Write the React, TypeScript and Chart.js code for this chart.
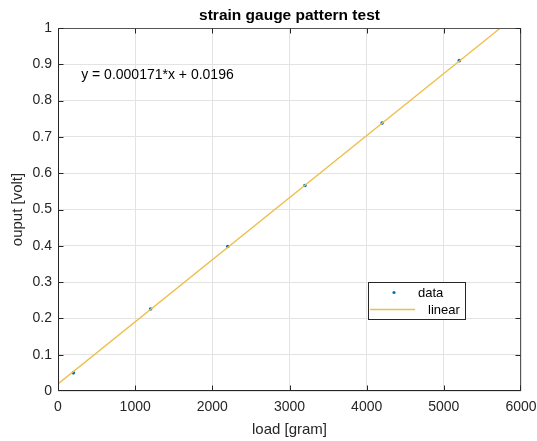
import React, { useEffect, useRef } from "react";
import { Chart, registerables } from "chart.js";

Chart.register(...registerables);

// Measured strain gauge output against applied load
const loadGrams = [200, 1200, 2200, 3200, 4200, 5200];
const outputVolts = [0.05, 0.226, 0.398, 0.566, 0.738, 0.91];

// Least-squares fit shown on the plot
const FIT_SLOPE = 0.000171;
const FIT_INTERCEPT = 0.0196;
const fitRangeX = [0, 6000];
const fitLabel = "y = 0.000171*x + 0.0196";
const fitLabelAt = { x: 300, y: 0.87 };

const xTickValues = [0, 1000, 2000, 3000, 4000, 5000, 6000];
const yTickValues = [0, 0.1, 0.2, 0.3, 0.4, 0.5, 0.6, 0.7, 0.8, 0.9, 1];

const titleText = "strain gauge pattern test";
const xTitle = "load [gram]";
const yTitle = "ouput [volt]";
const legendLabels = ["data", "linear"];

const AXIS = "#262626";
const AXIS_FAR = "#555555";
const GRID = "#e3e3e3";
const BLUE = "#0072BD";
const GOLD = "#EDBF4A";
const FONT = "'Liberation Sans', Arial, Helvetica, sans-serif";

const W = 537;
const H = 441;
const AREA = { left: 58, top: 28, right: 521, bottom: 391 };

const decorations = {
  id: "decorations",
  afterDraw(chart: any) {
    const { ctx, chartArea: a, scales } = chart;
    const xs = scales.x;
    const ys = scales.y;
    const L = Math.round(a.left) + 0.5;
    const R = Math.round(a.right) - 0.5;
    const T = Math.round(a.top) + 0.5;
    const B = Math.round(a.bottom) - 0.5;
    const clampX = (p: number) => Math.min(R, Math.max(L, p));
    const clampY = (p: number) => Math.min(B, Math.max(T, p));
    ctx.save();
    ctx.lineWidth = 1;

    // far (top/right) edges of the box
    ctx.strokeStyle = AXIS_FAR;
    ctx.beginPath();
    ctx.moveTo(L, T);
    ctx.lineTo(R, T);
    ctx.lineTo(R, B);
    ctx.stroke();

    // near (left/bottom) edges
    ctx.strokeStyle = AXIS;
    ctx.beginPath();
    ctx.moveTo(L, T);
    ctx.lineTo(L, B);
    ctx.lineTo(R, B);
    ctx.stroke();

    // inward tick marks on all four sides
    const tl = 5;
    ctx.beginPath();
    xTickValues.forEach((v) => {
      const px = clampX(Math.round(xs.getPixelForValue(v)) + 0.5);
      ctx.moveTo(px, B);
      ctx.lineTo(px, B - tl);
      ctx.moveTo(px, T);
      ctx.lineTo(px, T + tl);
    });
    yTickValues.forEach((v) => {
      const py = clampY(Math.round(ys.getPixelForValue(v)) + 0.5);
      ctx.moveTo(L, py);
      ctx.lineTo(L + tl, py);
      ctx.moveTo(R, py);
      ctx.lineTo(R - tl, py);
    });
    ctx.stroke();

    ctx.fillStyle = "#000";
    ctx.textBaseline = "middle";

    // title
    ctx.font = `bold 15.5px ${FONT}`;
    ctx.textAlign = "center";
    ctx.fillText(titleText, (a.left + a.right) / 2, 16);

    // axis titles
    ctx.fillStyle = AXIS;
    ctx.font = `15px ${FONT}`;
    ctx.fillText(xTitle, (a.left + a.right) / 2, 430);
    ctx.save();
    ctx.translate(18, (a.top + a.bottom) / 2);
    ctx.rotate(-Math.PI / 2);
    ctx.fillText(yTitle, 0, 0);
    ctx.restore();

    // fit equation
    ctx.fillStyle = "#000";
    ctx.font = `14px ${FONT}`;
    ctx.textAlign = "left";
    ctx.fillText(fitLabel, xs.getPixelForValue(fitLabelAt.x), ys.getPixelForValue(fitLabelAt.y));

    // legend
    const lx = 368.5, ly = 282.5, lw = 97, lh = 37;
    ctx.fillStyle = "#fff";
    ctx.fillRect(lx, ly, lw, lh);
    ctx.strokeStyle = AXIS;
    ctx.strokeRect(lx, ly, lw, lh);
    ctx.fillStyle = BLUE;
    ctx.beginPath();
    ctx.arc(394, 292.5, 1.6, 0, Math.PI * 2);
    ctx.fill();
    ctx.strokeStyle = GOLD;
    ctx.lineWidth = 1.3;
    ctx.beginPath();
    ctx.moveTo(370, 309.5);
    ctx.lineTo(415, 309.5);
    ctx.stroke();
    ctx.fillStyle = "#000";
    ctx.font = `13px ${FONT}`;
    ctx.fillText(legendLabels[0], 418, 293);
    ctx.fillText(legendLabels[1], 428, 310.5);
    ctx.restore();
  },
};

const whiteBg = {
  id: "whiteBg",
  beforeDraw(chart: any) {
    const { ctx } = chart;
    ctx.save();
    ctx.fillStyle = "#fff";
    ctx.fillRect(0, 0, chart.width, chart.height);
    ctx.restore();
  },
};

export default function App() {
  const ref = useRef<HTMLCanvasElement | null>(null);

  useEffect(() => {
    if (!ref.current) return;
    const fitPoints = fitRangeX.map((x) => ({ x, y: FIT_SLOPE * x + FIT_INTERCEPT }));
    const chart = new Chart(ref.current, {
      type: "scatter",
      data: {
        datasets: [
          {
            label: "linear",
            type: "line",
            data: fitPoints,
            borderColor: GOLD,
            borderWidth: 1.3,
            pointRadius: 0,
            fill: false,
          } as any,
          {
            label: "data",
            data: loadGrams.map((x, i) => ({ x, y: outputVolts[i] })),
            backgroundColor: BLUE,
            borderColor: BLUE,
            pointRadius: 1.8,
            borderWidth: 0,
          },
        ],
      },
      options: {
        responsive: false,
        animation: false,
        events: [],
        layout: {
          padding: { left: 0, top: AREA.top, right: W - AREA.right, bottom: 0 },
        },
        plugins: {
          legend: { display: false },
          title: { display: false },
          tooltip: { enabled: false },
        },
        scales: {
          x: {
            type: "linear",
            min: 0,
            max: 6000,
            afterBuildTicks: (s: any) => {
              s.ticks = xTickValues.map((value) => ({ value }));
            },
            afterFit: (s: any) => {
              s.height = H - AREA.bottom;
              s.paddingLeft = 0;
              s.paddingRight = 0;
            },
            grid: { color: GRID, drawTicks: false, lineWidth: 1 },
            border: { display: false },
            ticks: {
              color: AXIS,
              font: { family: FONT, size: 14 },
              padding: 8,
              maxRotation: 0,
              autoSkip: false,
              callback: (v: any) => String(v),
            },
          },
          y: {
            type: "linear",
            min: 0,
            max: 1,
            afterBuildTicks: (s: any) => {
              s.ticks = yTickValues.map((value) => ({ value }));
            },
            afterFit: (s: any) => {
              s.width = AREA.left;
              s.paddingTop = 0;
              s.paddingBottom = 0;
            },
            grid: { color: GRID, drawTicks: false, lineWidth: 1 },
            border: { display: false },
            ticks: {
              color: AXIS,
              font: { family: FONT, size: 14 },
              padding: 6,
              autoSkip: false,
              callback: (v: any) => String(Number(Number(v).toFixed(1))),
            },
          },
        },
      },
      plugins: [whiteBg, decorations],
    });
    return () => chart.destroy();
  }, []);

  return (
    <div style={{ position: "fixed", left: 0, top: 0, width: W, height: H, background: "#fff" }}>
      <canvas ref={ref} width={W} height={H} style={{ display: "block", width: W, height: H }} />
    </div>
  );
}
